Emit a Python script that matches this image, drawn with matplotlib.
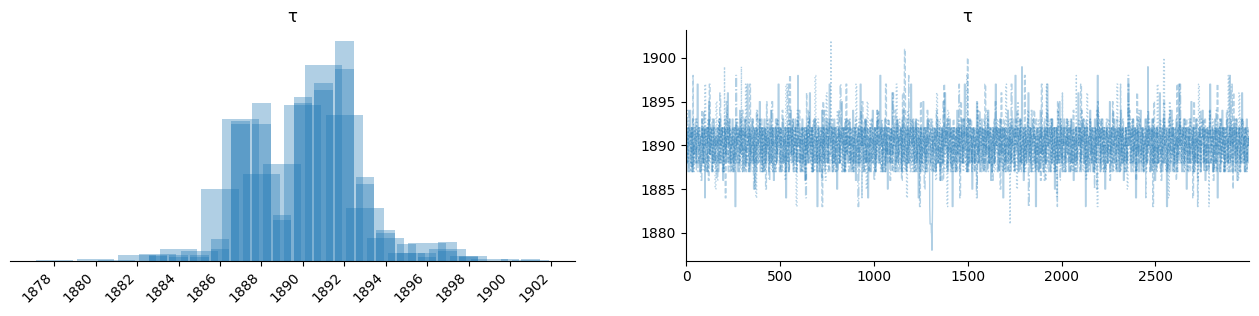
import numpy as np
import matplotlib
matplotlib.use("Agg")
import matplotlib.pyplot as plt

years = list(range(1878, 1903))

# number of draws at each year, one list per chain
chain0_counts = [1, 1, 3, 7, 2, 30, 33, 34, 60, 348, 380, 119, 420, 469, 601, 235, 90, 39, 40, 61, 23, 4, 0, 0, 0]
chain1_counts = [0, 0, 0, 0, 0, 16, 16, 16, 33, 400, 392, 130, 469, 508, 548, 241, 87, 48, 22, 53, 13, 0, 4, 4, 0]
chain2_counts = [0, 0, 0, 2, 1, 18, 20, 22, 33, 420, 392, 120, 431, 520, 599, 230, 70, 26, 20, 50, 17, 4, 3, 1, 1]
chain3_counts = [0, 0, 0, 0, 0, 13, 11, 11, 62, 392, 452, 116, 452, 489, 629, 221, 79, 23, 11, 28, 11, 0, 0, 0, 0]

# excursions seen in the trace: (first draw, values)
chain0_excursions = [
    (1298, [1883, 1882, 1881, 1881, 1881, 1881, 1881, 1881, 1881, 1880, 1880, 1879, 1878, 1880, 1882, 1883]),
    (1788, [1898, 1899, 1899, 1897]),
]
chain1_excursions = [
    (1163, [1898, 1901, 1901, 1901, 1901, 1897]),
    (1499, [1900, 1900, 1900, 1900]),
]
chain2_excursions = [
    (205, [1899]),
    (295, [1899]),
    (771, [1901, 1902, 1898]),
    (1725, [1882, 1881, 1881]),
    (2544, [1899, 1900, 1900, 1900, 1899]),
]
chain3_excursions = []

title = "\u03c4"


def build_trace(counts, excursions, step, run=5):
    counts = list(counts)
    for _, vals in excursions:
        for v in vals:
            counts[years.index(v)] -= 1
    # the remaining draws of each year as short runs, spread over the chain
    run_vals, run_lens = [], []
    for y, c in zip(years, counts):
        while c > 0:
            n = min(run, c)
            run_vals.append(y)
            run_lens.append(n)
            c -= n
    k = np.arange(len(run_vals))
    order = np.argsort(((k + 1) * step) % 1.0)
    base = list(np.repeat(np.array(run_vals)[order], np.array(run_lens)[order]))
    for start, vals in sorted(excursions):
        base[start:start] = vals
    return np.array(base)


def get_bins(values):
    lo, hi = int(values.min()), int(values.max())
    sturges = (hi - lo) / (np.log2(values.size) + 1)
    iqr = np.subtract(*np.percentile(values, [75, 25]))
    fd = 2 * iqr * values.size ** (-1 / 3)
    width = int(np.round(max(1, sturges, fd)))
    return np.arange(lo, hi + width + 1, width)


fig = plt.figure(figsize=(12.59, 3.16), dpi=100)
ax_hist = fig.add_axes([0.0079, 0.175, 0.4488, 0.730])
ax_trace = fig.add_axes([0.5449, 0.175, 0.4472, 0.730])

chains = [
    (chain0_counts, chain0_excursions, 0.6180339887, "solid"),
    (chain1_counts, chain1_excursions, 0.4142135624, "dashed"),
    (chain2_counts, chain2_excursions, 0.7320508076, "dotted"),
    (chain3_counts, chain3_excursions, 0.3027756377, "dashdot"),
]

for counts, excursions, step, ls in chains:
    trace = build_trace(counts, excursions, step)
    ax_hist.hist(trace, bins=get_bins(trace), density=True, rwidth=0.9,
                 align="left", alpha=0.35, color="C0")
    ax_trace.plot(np.arange(len(trace)), trace, linestyle=ls, color="C0",
                  alpha=0.35, linewidth=1)

ax_hist.set_title(title)
ax_hist.set_yticks([])
ax_hist.set_xticks(np.arange(1878, 1903, 2))
plt.setp(ax_hist.get_xticklabels(), rotation=45, ha="right")
for s in ["left", "top", "right"]:
    ax_hist.spines[s].set_visible(False)

ax_trace.set_title(title)
ax_trace.set_xlim(0, 2999)
ax_trace.set_xticks([0, 500, 1000, 1500, 2000, 2500])
ax_trace.set_yticks([1880, 1885, 1890, 1895, 1900])
for s in ["top", "right"]:
    ax_trace.spines[s].set_visible(False)

fig.savefig("out.png", dpi=100)
